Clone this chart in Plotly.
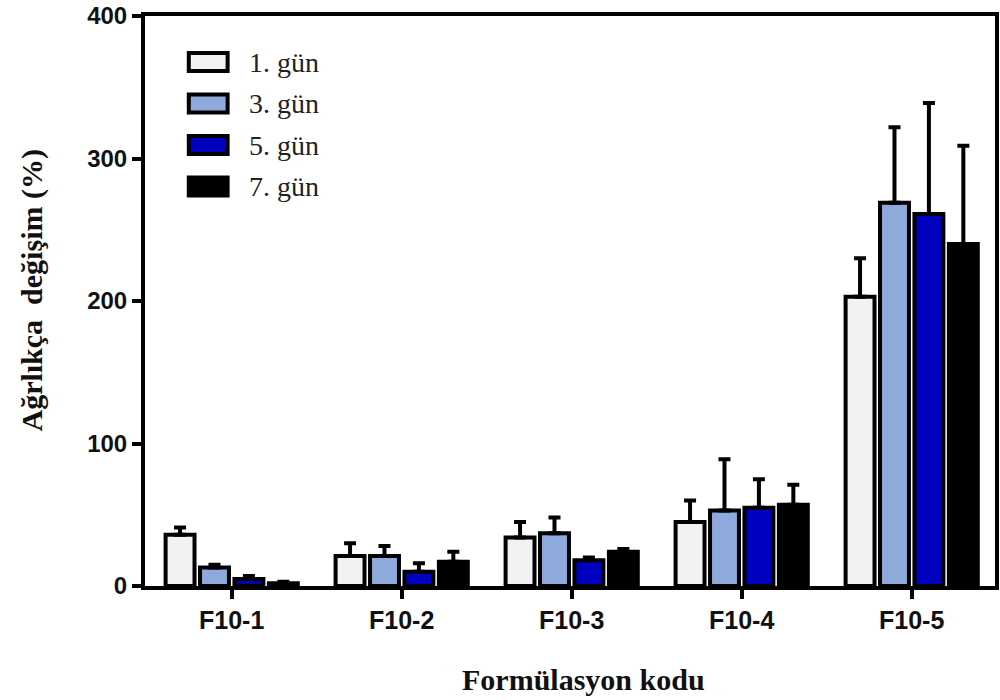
import plotly.graph_objects as go

# Formulation codes on the x axis
formulations = ["F10-1", "F10-2", "F10-3", "F10-4", "F10-5"]

# Weight change (%) per day, mean and upper SD
day1 = [36, 21, 34, 45, 203]
day1_sd = [5, 9, 11, 15, 27]
day3 = [13, 21, 37, 53, 269]
day3_sd = [2, 7, 11, 36, 53]
day5 = [5, 10, 18, 55, 261]
day5_sd = [2, 6, 2, 20, 78]
day7 = [2, 17, 24, 57, 240]
day7_sd = [1, 7, 2, 14, 69]

series_names = ["1. gün", "3. gün", "5. gün", "7. gün"]
series_colors = ["#F2F2F2", "#8EA9DB", "#0000BF", "#000000"]

y_ticks = [0, 100, 200, 300, 400]

SANS = "Liberation Sans, Arial, sans-serif"
SERIF = "Liberation Serif, Times New Roman, serif"

fig = go.Figure()
for name, vals, sd, col in zip(
    series_names,
    [day1, day3, day5, day7],
    [day1_sd, day3_sd, day5_sd, day7_sd],
    series_colors,
):
    fig.add_trace(
        go.Bar(
            x=formulations,
            y=vals,
            name=name,
            marker=dict(color=col, line=dict(color="black", width=4)),
            error_y=dict(
                type="data",
                array=sd,
                arrayminus=[0] * len(sd),
                symmetric=False,
                color="black",
                thickness=4,
                width=6,
            ),
            showlegend=False,
        )
    )

# Plot area in pixels: left 145, right 999, top 16, bottom 586
L, R, T, B = 145, 999, 16, 586
W, H = 1000, 700


def px_x(x):
    return (x - L) / (R - L)


def px_y(y):
    return (B - y) / (B - T)


# Hand-drawn legend: outlined swatches with serif labels
legend_rows = [62, 103.5, 145, 186.5]
shapes = []
annotations = []
for name, col, cy in zip(series_names, series_colors, legend_rows):
    shapes.append(
        dict(
            type="rect",
            xref="paper",
            yref="paper",
            x0=px_x(189),
            x1=px_x(228),
            y0=px_y(cy + 9),
            y1=px_y(cy - 9),
            fillcolor=col,
            line=dict(color="black", width=4),
        )
    )
    annotations.append(
        dict(
            xref="paper",
            yref="paper",
            x=px_x(247),
            y=px_y(cy),
            xanchor="left",
            yanchor="middle",
            text=name,
            showarrow=False,
            font=dict(family=SERIF, size=28, color="#222222"),
        )
    )

# Axis titles
annotations.append(
    dict(
        xref="paper",
        yref="paper",
        x=px_x(586),
        y=px_y(679),
        xanchor="center",
        yanchor="middle",
        text="Formülasyon kodu",
        showarrow=False,
        font=dict(family=SERIF, size=30, color="#111111", weight="bold"),
    )
)
annotations.append(
    dict(
        xref="paper",
        yref="paper",
        x=px_x(31),
        y=px_y(291),
        xanchor="center",
        yanchor="middle",
        textangle=-90,
        text="Ağrlıkça  değişim (%)",
        showarrow=False,
        font=dict(family=SERIF, size=30, color="#111111", weight="bold"),
    )
)

fig.update_layout(
    width=W,
    height=H,
    margin=dict(l=L, r=W - R, t=T, b=H - B),
    paper_bgcolor="white",
    plot_bgcolor="white",
    barmode="group",
    bargap=0.19,
    bargroupgap=0.16,
    shapes=shapes,
    annotations=annotations,
    xaxis=dict(
        range=[-0.51, 4.49],
        showline=True,
        linecolor="black",
        linewidth=4,
        mirror=True,
        ticks="outside",
        ticklen=9,
        tickwidth=4,
        tickcolor="black",
        showgrid=False,
        tickfont=dict(family=SANS, size=25, color="#111111", weight="bold"),
    ),
    yaxis=dict(
        range=[0, 400],
        tickvals=y_ticks,
        showline=True,
        linecolor="black",
        linewidth=4,
        mirror=True,
        ticks="outside",
        ticklen=9,
        tickwidth=4,
        tickcolor="black",
        showgrid=False,
        zeroline=False,
        tickfont=dict(family=SANS, size=24, color="#111111", weight="bold"),
    ),
)

fig.write_html("out.html")
